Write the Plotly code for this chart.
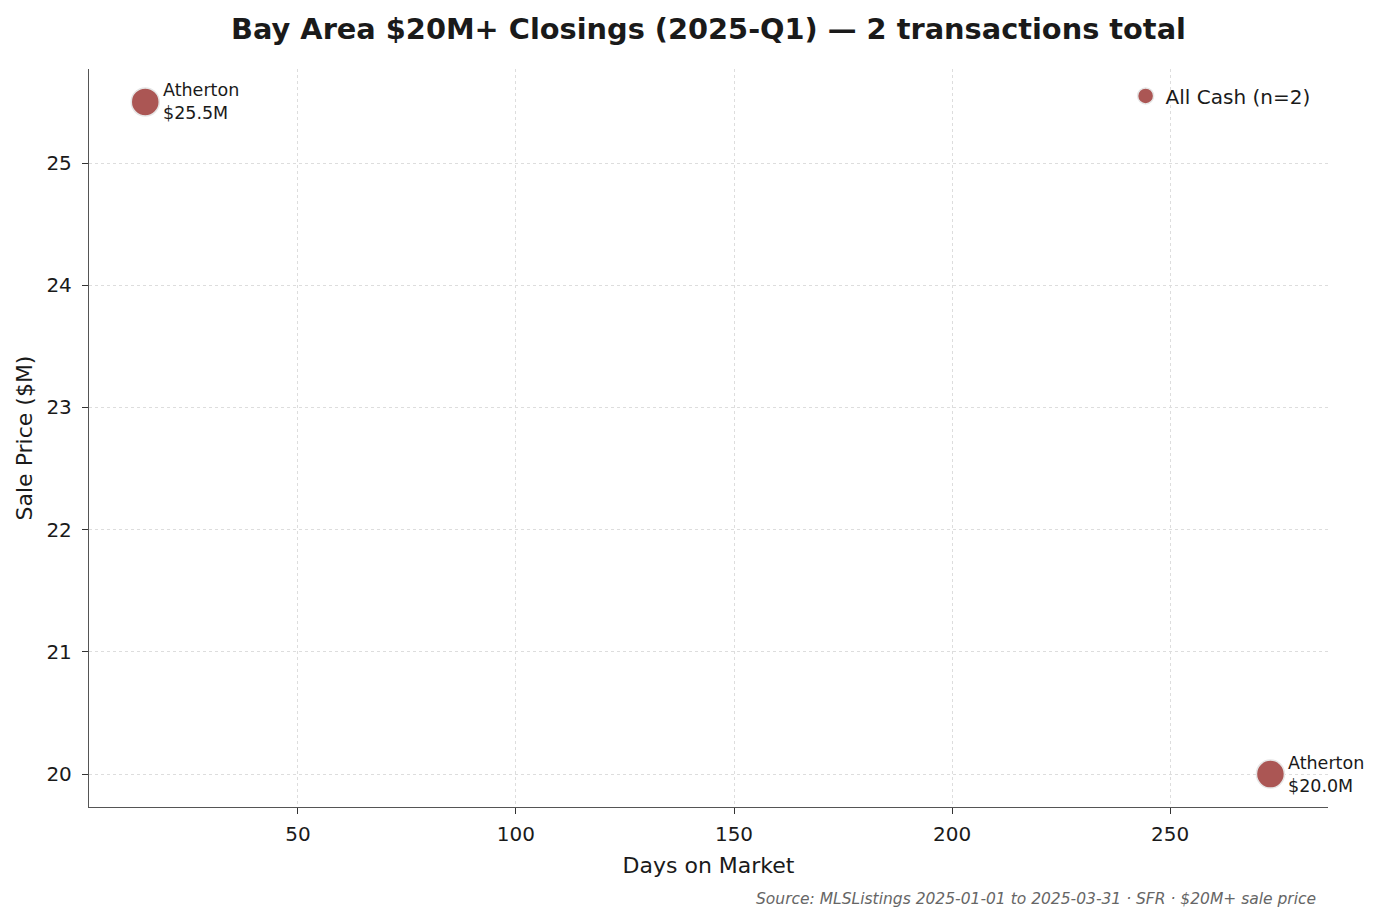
import plotly.graph_objects as go

# Q1 2025 closings at $20M+
cities = ["Atherton", "Atherton"]
days_on_market = [15, 273]
sale_price_m = [25.5, 20.0]
series_name = "All Cash (n=2)"

title = "<b>Bay Area $20M+ Closings (2025-Q1) — 2 transactions total</b>"
source = "Source: MLSListings 2025-01-01 to 2025-03-31 · SFR · $20M+ sale price"

FONT = "DejaVu Sans"
INK = "#1a1a1a"

fig = go.Figure()
fig.add_trace(go.Scatter(
    x=days_on_market, y=sale_price_m, mode="markers", name=series_name,
    marker=dict(size=28, color="#ab5654", line=dict(color="#e6e6e6", width=1.5)),
    showlegend=True,
))

# point labels
for c, d, p in zip(cities, days_on_market, sale_price_m):
    fig.add_annotation(x=d, y=p, xref="x", yref="y", text=f"{c}<br>${p:.1f}M",
                       showarrow=False, xanchor="left", yanchor="middle", align="left",
                       xshift=16, font=dict(family=FONT, size=17.5, color=INK))

# source note, bottom right under the plot
fig.add_annotation(x=(1318 - 89) / (1328 - 89), y=-(899 - 807) / (807 - 69),
                   xref="paper", yref="paper", text=f"<i>{source}</i>",
                   showarrow=False, xanchor="right", yanchor="middle",
                   font=dict(family=FONT, size=15.5, color="#666666"))

axis_common = dict(
    showline=True, linecolor="#555555", linewidth=1.3, mirror=False,
    ticks="outside", ticklen=6, tickwidth=1.3, tickcolor="#333333",
    showgrid=True, gridcolor="#dddddd", griddash="dot", gridwidth=1,
    zeroline=False, tickfont=dict(family=FONT, size=20, color=INK),
)

fig.update_xaxes(range=[2.1, 286.2], tickvals=[50, 100, 150, 200, 250], ticklabelstandoff=3,
                 title=dict(text="Days on Market", font=dict(family=FONT, size=22, color=INK), standoff=12),
                 **axis_common)
fig.update_yaxes(range=[19.73, 25.77], tickvals=[20, 21, 22, 23, 24, 25], ticklabelstandoff=6,
                 title=dict(text="Sale Price ($M)", font=dict(family=FONT, size=22, color=INK), standoff=7),
                 **axis_common)

fig.update_layout(
    width=1383, height=923,
    margin=dict(l=81, r=63, t=61, b=124),
    plot_bgcolor="white", paper_bgcolor="white",
    font=dict(family=FONT, color=INK),
    title=dict(text=title, x=0.5, xref="paper", y=0.977, yanchor="middle",
               font=dict(family=FONT, size=28.8, color=INK)),
    legend=dict(x=0.99, y=0.99, xanchor="right", yanchor="top", bgcolor="rgba(255,255,255,0)",
                font=dict(family=FONT, size=20, color=INK), itemsizing="trace"),
)

fig.write_html("out.html")
